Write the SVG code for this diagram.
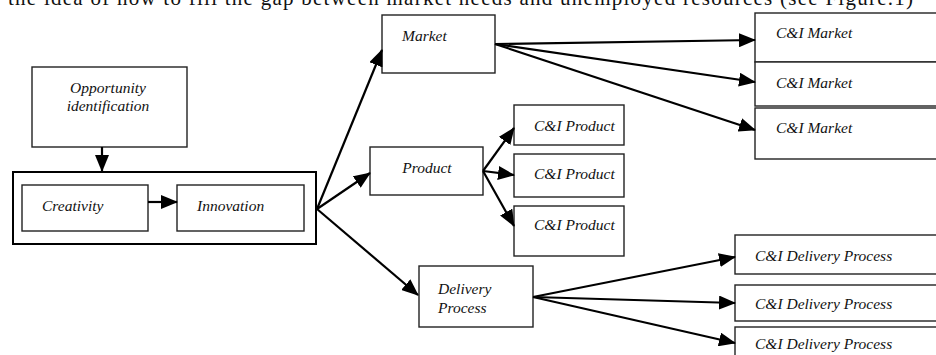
<svg xmlns="http://www.w3.org/2000/svg" width="936" height="355" viewBox="0 0 936 355">
  <defs>
    <marker id="arrow" markerUnits="userSpaceOnUse" markerWidth="17" markerHeight="14" refX="16" refY="7" orient="auto">
      <path d="M0,0 L17,7 L0,14 Z" fill="#000"/>
    </marker>
  </defs>
  <style>
    .box { fill: #fff; stroke: #222; stroke-width: 1.4; }
    .frame { fill: none; stroke: #000; stroke-width: 2; }
    .lbl { font-family: "Liberation Serif", "Times New Roman", serif; font-style: italic; font-size: 15.5px; fill: #111; }
    .body { font-family: "Liberation Serif", "Times New Roman", serif; font-size: 21px; fill: #111; }
    .conn line { stroke: #000; stroke-width: 2.2; marker-end: url(#arrow); }
  </style>
  <rect width="936" height="355" fill="#fff"/>

  <!-- running text line above the figure -->
  <text class="body" x="8" y="5" textLength="905" lengthAdjust="spacing">the idea of how to fill the gap between  market needs and unemployed resources (see Figure.1)</text>

  <g id="opportunity">
    <rect class="box" x="32" y="67" width="155" height="80"/>
    <text class="lbl" x="108" y="93" text-anchor="middle">Opportunity</text>
    <text class="lbl" x="108" y="111" text-anchor="middle">identification</text>
  </g>

  <g id="core">
    <rect class="frame" x="13" y="172" width="303" height="72"/>
  </g>
  <g id="creativity">
    <rect class="box" x="22" y="185" width="126" height="46"/>
    <text class="lbl" x="42" y="211">Creativity</text>
  </g>
  <g id="innovation">
    <rect class="box" x="177" y="185" width="127" height="46"/>
    <text class="lbl" x="197" y="211">Innovation</text>
  </g>

  <g id="market">
    <rect class="box" x="382" y="15" width="113" height="58"/>
    <text class="lbl" x="402" y="41">Market</text>
  </g>
  <g id="product">
    <rect class="box" x="370" y="147" width="113" height="48"/>
    <text class="lbl" x="427" y="173" text-anchor="middle">Product</text>
  </g>
  <g id="delivery">
    <rect class="box" x="419" y="266" width="114" height="61"/>
    <text class="lbl" x="438" y="294">Delivery</text>
    <text class="lbl" x="438" y="313">Process</text>
  </g>

  <g id="ci-market-1">
    <rect class="box" x="755" y="13" width="200" height="49"/>
    <text class="lbl" x="776" y="38">C&amp;I Market</text>
  </g>
  <g id="ci-market-2">
    <rect class="box" x="755" y="62" width="200" height="44"/>
    <text class="lbl" x="776" y="88">C&amp;I Market</text>
  </g>
  <g id="ci-market-3">
    <rect class="box" x="755" y="108" width="200" height="51"/>
    <text class="lbl" x="776" y="133">C&amp;I Market</text>
  </g>

  <g id="ci-product-1">
    <rect class="box" x="514" y="105" width="110" height="40"/>
    <text class="lbl" x="534" y="131">C&amp;I Product</text>
  </g>
  <g id="ci-product-2">
    <rect class="box" x="514" y="154" width="110" height="43"/>
    <text class="lbl" x="534" y="179">C&amp;I Product</text>
  </g>
  <g id="ci-product-3">
    <rect class="box" x="514" y="206" width="110" height="50"/>
    <text class="lbl" x="534" y="230">C&amp;I Product</text>
  </g>

  <g id="ci-delivery-1">
    <rect class="box" x="735" y="235" width="220" height="39"/>
    <text class="lbl" x="755" y="261">C&amp;I Delivery Process</text>
  </g>
  <g id="ci-delivery-2">
    <rect class="box" x="735" y="285" width="220" height="36"/>
    <text class="lbl" x="755" y="309">C&amp;I Delivery Process</text>
  </g>
  <g id="ci-delivery-3">
    <rect class="box" x="735" y="327" width="220" height="40"/>
    <text class="lbl" x="755" y="349">C&amp;I Delivery Process</text>
  </g>

  <g id="connectors" class="conn">
    <line x1="102" y1="147" x2="102" y2="171"/>
    <line x1="148" y1="202" x2="177" y2="202"/>
    <line x1="317" y1="209" x2="382" y2="50"/>
    <line x1="317" y1="209" x2="370" y2="173"/>
    <line x1="317" y1="209" x2="418" y2="295"/>
    <line x1="495" y1="44" x2="755" y2="40"/>
    <line x1="495" y1="44" x2="755" y2="82"/>
    <line x1="495" y1="44" x2="755" y2="130"/>
    <line x1="483" y1="171" x2="514" y2="128"/>
    <line x1="483" y1="171" x2="514" y2="175"/>
    <line x1="483" y1="171" x2="514" y2="226"/>
    <line x1="533" y1="297" x2="735" y2="257"/>
    <line x1="533" y1="297" x2="735" y2="303"/>
    <line x1="533" y1="297" x2="735" y2="343"/>
  </g>
</svg>
